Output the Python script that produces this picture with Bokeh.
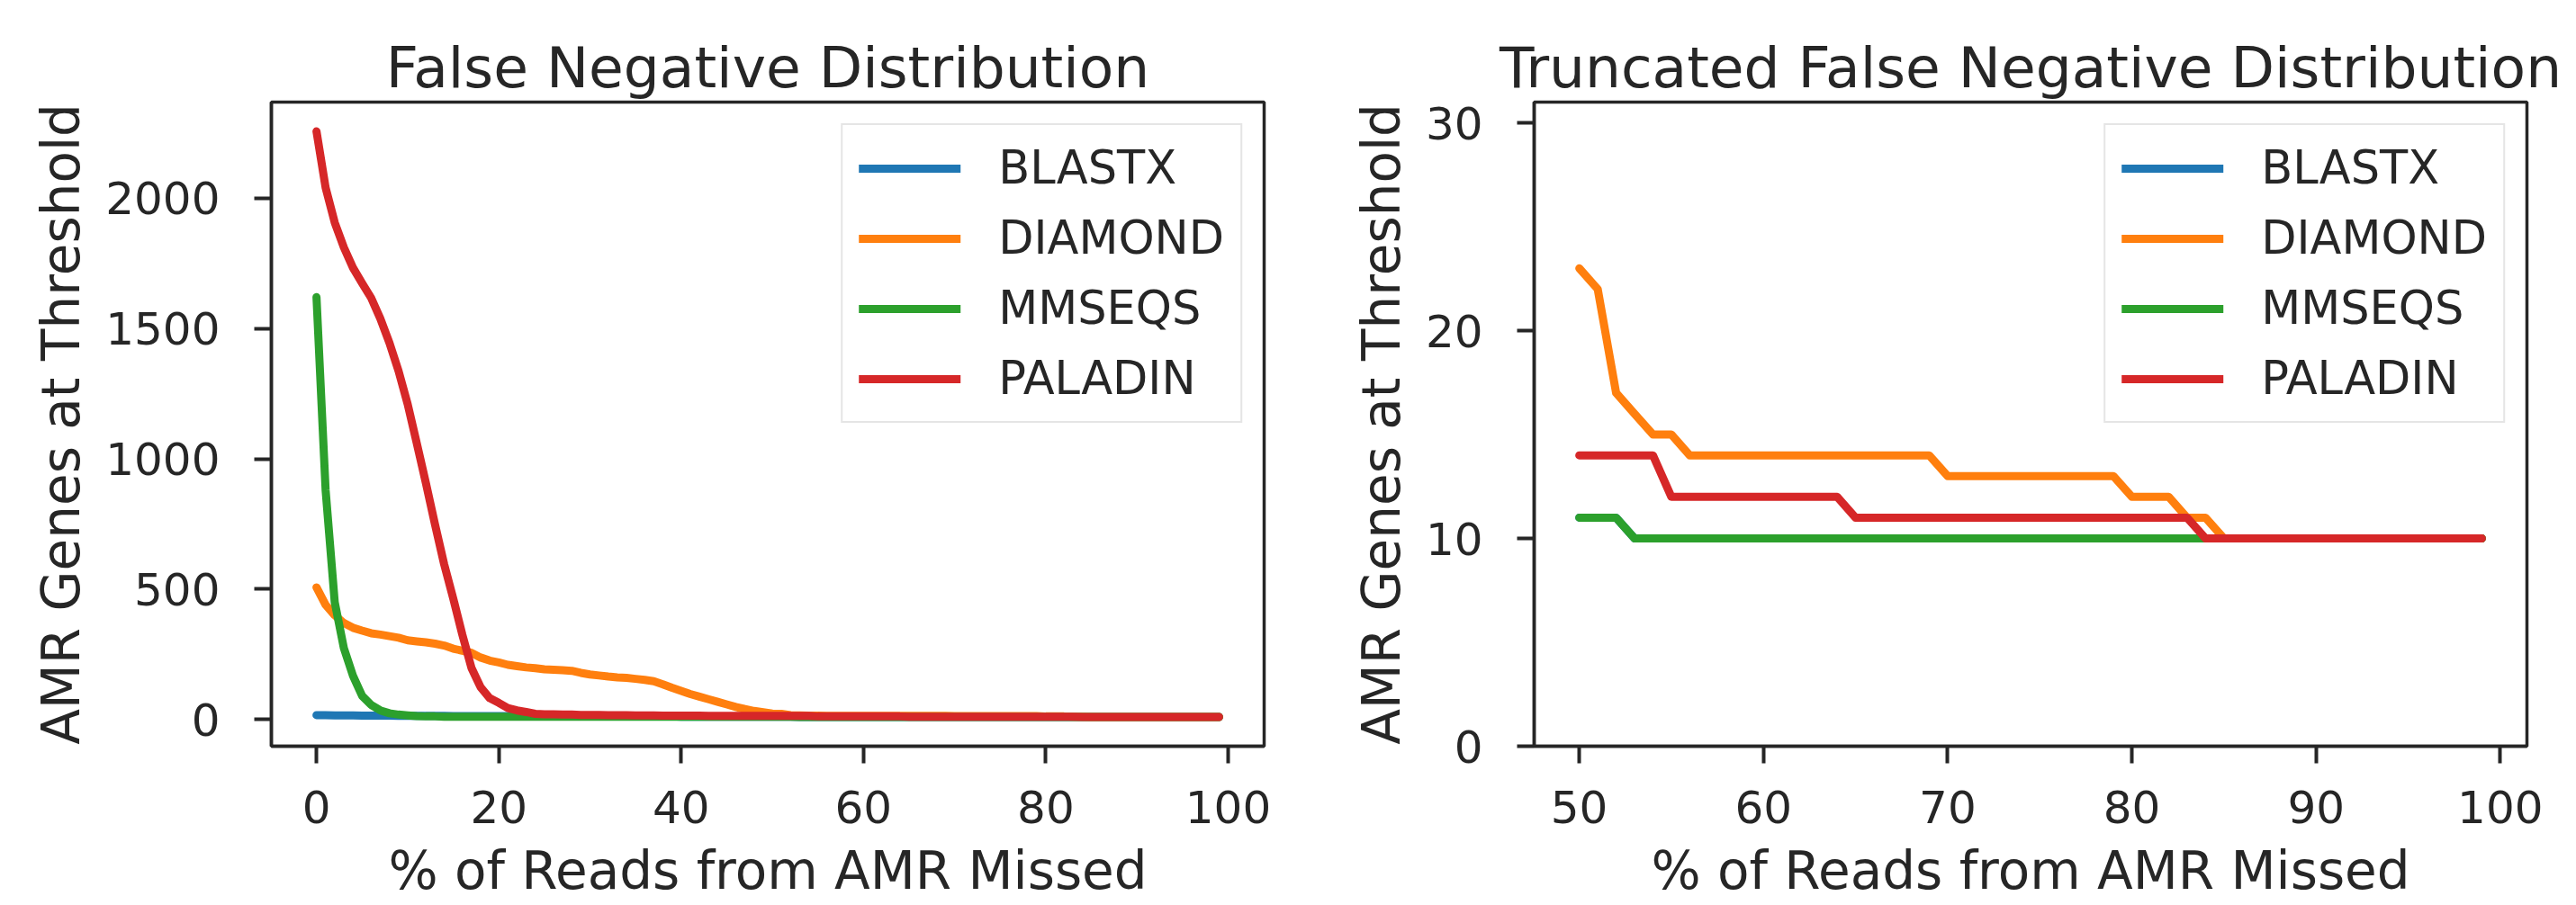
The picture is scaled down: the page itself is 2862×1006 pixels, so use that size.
from bokeh.plotting import figure
from bokeh.layouts import row
from bokeh.models import Range1d, FixedTicker
from bokeh.embed import file_html
from bokeh.resources import INLINE

# ---------------- data ----------------
pct_missed = list(range(100))

blastx = [17, 17, 16, 16, 16, 15, 15, 15, 15, 14,
          14, 14, 14, 14, 14, 13, 13, 13, 13, 13,
          13, 13, 13, 12, 12, 12, 12, 12, 12, 12,
          12, 12, 12, 12, 12, 12, 12, 12, 12, 12,
          11, 11, 11, 11, 11, 11, 11, 11, 11, 11,
          11, 11, 11, 10, 10, 10, 10, 10, 10, 10,
          10, 10, 10, 10, 10, 10, 10, 10, 10, 10,
          10, 10, 10, 10, 10, 10, 10, 10, 10, 10,
          10, 10, 10, 10, 10, 10, 10, 10, 10, 10,
          10, 10, 10, 10, 10, 10, 10, 10, 10, 10]

diamond = [507, 440, 400, 370, 352, 341, 331, 326, 320, 314,
           304, 300, 296, 291, 284, 272, 264, 256, 238, 226,
           219, 210, 205, 200, 197, 193, 191, 189, 187, 179,
           173, 169, 165, 162, 160, 156, 152, 147, 135, 122,
           110, 98, 88, 78, 68, 58, 48, 40, 33, 28,
           23, 22, 17, 16, 15, 15, 14, 14, 14, 14,
           14, 14, 14, 14, 14, 14, 14, 14, 14, 14,
           13, 13, 13, 13, 13, 13, 13, 13, 13, 13,
           12, 12, 12, 11, 11, 10, 10, 10, 10, 10,
           10, 10, 10, 10, 10, 10, 10, 10, 10, 10]

mmseqs = [1620, 880, 450, 274, 168, 91, 56, 35, 24, 19,
          16, 13, 12, 12, 11, 11, 11, 11, 11, 11,
          11, 11, 11, 11, 11, 11, 11, 11, 11, 11,
          11, 11, 11, 11, 11, 11, 11, 11, 11, 11,
          11, 11, 11, 11, 11, 11, 11, 11, 11, 11,
          11, 11, 11, 10, 10, 10, 10, 10, 10, 10,
          10, 10, 10, 10, 10, 10, 10, 10, 10, 10,
          10, 10, 10, 10, 10, 10, 10, 10, 10, 10,
          10, 10, 10, 10, 10, 10, 10, 10, 10, 10,
          10, 10, 10, 10, 10, 10, 10, 10, 10, 10]

paladin = [2256, 2040, 1906, 1811, 1733, 1674, 1617, 1538, 1445, 1337,
           1210, 1060, 907, 748, 596, 464, 325, 198, 124, 82,
           64, 44, 35, 29, 22, 20, 20, 19, 19, 18,
           18, 18, 17, 17, 17, 16, 16, 16, 15, 15,
           15, 15, 15, 14, 14, 14, 14, 14, 14, 14,
           14, 14, 14, 14, 14, 12, 12, 12, 12, 12,
           12, 12, 12, 12, 12, 11, 11, 11, 11, 11,
           11, 11, 11, 11, 11, 11, 11, 11, 11, 11,
           11, 11, 11, 11, 10, 10, 10, 10, 10, 10,
           10, 10, 10, 10, 10, 10, 10, 10, 10, 10]

tool_names = ["BLASTX", "DIAMOND", "MMSEQS", "PALADIN"]
tool_colors = ["#1f77b4", "#ff7f0e", "#2ca02c", "#d62728"]

left_xticks = [0, 20, 40, 60, 80, 100]
left_yticks = [0, 500, 1000, 1500, 2000]
right_xticks = [50, 60, 70, 80, 90, 100]
right_yticks = [0, 10, 20, 30]
trunc_start = 50

TXT = "#262626"
FONT = "DejaVu Sans"


def padded(lo, hi, frac=0.05):
    span = hi - lo
    return lo - frac * span, hi + frac * span


def make_fig(title, xs, series, xr, yr, xticks, yticks, mb_left, mb_right):
    p = figure(frame_width=1103, frame_height=716,
               min_border_left=mb_left, min_border_right=mb_right,
               min_border_top=113, min_border_bottom=177,
               x_range=Range1d(*xr), y_range=Range1d(*yr),
               output_backend="svg", toolbar_location=None, title=title,
               background_fill_color="white", border_fill_color="white")
    for name, col, ys in zip(tool_names, tool_colors, series):
        p.line(xs, ys, line_color=col, line_width=9, line_cap="round",
               line_join="round", legend_label=name)

    p.grid.visible = False
    p.outline_line_color = TXT
    p.outline_line_width = 3.5

    p.title.text_font = FONT
    p.title.text_font_size = "63px"
    p.title.text_font_style = "normal"
    p.title.text_color = TXT
    p.title.align = "center"
    p.title.standoff = 4

    for ax, ticks in ((p.xaxis[0], xticks), (p.yaxis[0], yticks)):
        ax.ticker = FixedTicker(ticks=ticks)
        ax.minor_tick_line_color = None
        ax.major_tick_out = 19
        ax.major_tick_in = 0
        ax.major_tick_line_width = 4
        ax.major_tick_line_color = TXT
        ax.axis_line_color = TXT
        ax.axis_line_width = 3.5
        ax.major_label_text_font = FONT
        ax.major_label_text_font_size = "50px"
        ax.major_label_text_color = TXT
        ax.axis_label_text_font = FONT
        ax.axis_label_text_font_size = "58px"
        ax.axis_label_text_font_style = "normal"
        ax.axis_label_text_color = TXT
    p.xaxis[0].major_label_standoff = 30
    p.yaxis[0].major_label_standoff = 38
    p.xaxis[0].axis_label = "% of Reads from AMR Missed"
    p.yaxis[0].axis_label = "AMR Genes at Threshold"
    p.xaxis[0].axis_label_standoff = 16
    p.yaxis[0].axis_label_standoff = 12

    lg = p.legend[0]
    lg.location = "top_right"
    lg.margin = 24
    lg.padding = 18
    lg.spacing = 19
    lg.glyph_width = 113
    lg.glyph_height = 58
    lg.label_height = 58
    lg.label_standoff = 42
    lg.label_text_font = FONT
    lg.label_text_font_size = "51px"
    lg.label_text_color = TXT
    lg.border_line_color = "#cccccc"
    lg.border_line_width = 2
    lg.background_fill_color = "white"
    lg.background_fill_alpha = 0.8
    return p


all_series = [blastx, diamond, mmseqs, paladin]
all_vals = [v for s in all_series for v in s]

p1 = make_fig("False Negative Distribution", pct_missed, all_series,
              padded(min(pct_missed), max(pct_missed)),
              padded(min(all_vals), max(all_vals)),
              left_xticks, left_yticks, 301, 60)

i0 = pct_missed.index(trunc_start)
trunc_x = pct_missed[i0:]
trunc_series = [s[i0:] for s in all_series]
p2 = make_fig("Truncated False Negative Distribution", trunc_x, trunc_series,
              padded(min(trunc_x), max(trunc_x)),
              (0, 31),
              right_xticks, right_yticks, 240, 55)

layout = row(p1, p2)
open("out.html", "w").write(file_html(layout, INLINE))
